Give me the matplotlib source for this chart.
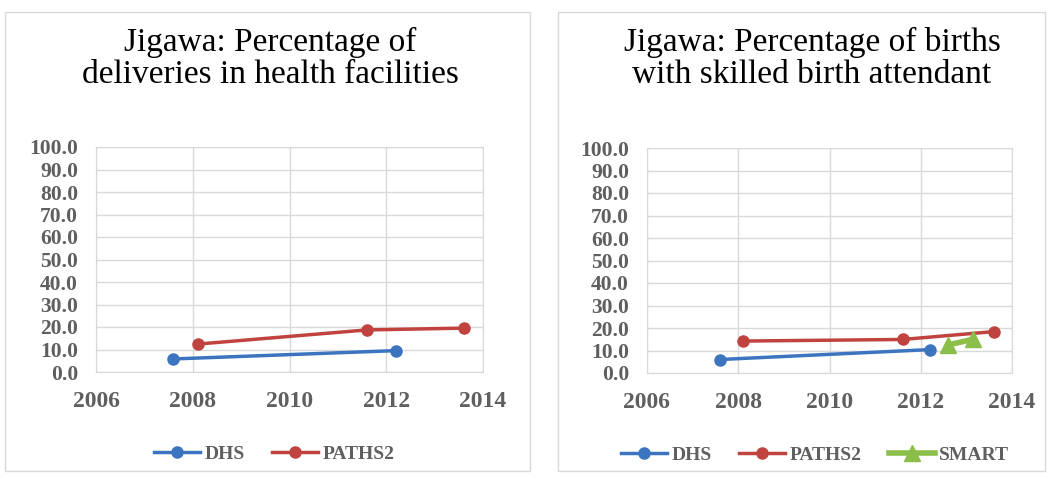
import matplotlib
matplotlib.use("Agg")
import matplotlib.pyplot as plt
from matplotlib.patches import Rectangle

# data
left_title = "Jigawa: Percentage of\ndeliveries in health facilities"
right_title = "Jigawa: Percentage of births\nwith skilled birth attendant"

dhs_years = [2007.6, 2012.2]
dhs_facility = [5.8, 9.5]
dhs_sba = [6.0, 10.4]

paths_years = [2008.1, 2011.6, 2013.6]
paths_facility = [12.4, 18.7, 19.5]
paths_sba = [14.2, 14.9, 18.4]

smart_years = [2012.6, 2013.15]
smart_sba = [12.5, 15.0]

xticks = [2006, 2008, 2010, 2012, 2014]
yticks = list(range(0, 101, 10))

blue = "#3d74c0"
red = "#c0433f"
green = "#8cbf4a"
txt = "#5f5f5f"
serif = ["Liberation Serif", "DejaVu Serif"]

fig = plt.figure(figsize=(10.5, 4.79), dpi=100)

# panel frames
for x0, w in [(5, 525), (558, 487)]:
    fig.patches.append(Rectangle((x0 / 1050, 8 / 479), w / 1050, 459 / 479,
                                 transform=fig.transFigure, fill=False,
                                 edgecolor="#d9d9d9", lw=1.0))


def setup(ax, title, tx):
    ax.set_xlim(2006, 2014)
    ax.set_ylim(0, 100)
    ax.set_xticks(xticks)
    ax.set_yticks(yticks)
    ax.set_yticklabels([f"{v:.1f}" for v in yticks])
    ax.grid(True, color="#d9d9d9", lw=1.0)
    ax.set_axisbelow(True)
    for s in ax.spines.values():
        s.set_color("#d9d9d9")
    ax.tick_params(length=0, colors=txt)
    ax.tick_params(axis="y", pad=13, labelsize=15.5)
    ax.tick_params(axis="x", pad=14, labelsize=17)
    for lab in ax.get_xticklabels() + ax.get_yticklabels():
        lab.set_family(serif)
        lab.set_fontweight("bold")
    fig.text(tx, 0.878, title, ha="center", va="center", fontsize=24,
             family=serif, linespacing=1.1)


leg_kw = dict(loc="center", frameon=False,
              prop={"family": serif, "size": 14, "weight": "bold"},
              labelcolor=txt, handlelength=2.4, columnspacing=1.4,
              handletextpad=0.2)

ax1 = fig.add_axes([96 / 1050, 107 / 479, 387 / 1050, 225 / 479])
ax1.plot(dhs_years, dhs_facility, "-o", color=blue, lw=2.5, ms=8, label="DHS")
ax1.plot(paths_years, paths_facility, "-o", color=red, lw=2.5, ms=8, label="PATHS2")
setup(ax1, left_title, 270 / 1050)
ax1.legend(bbox_to_anchor=(0.46, -0.365), ncol=2, **leg_kw)

ax2 = fig.add_axes([647 / 1050, 106 / 479, 365 / 1050, 225 / 479])
ax2.plot(dhs_years, dhs_sba, "-o", color=blue, lw=2.5, ms=8, label="DHS")
ax2.plot(paths_years, paths_sba, "-o", color=red, lw=2.5, ms=8, label="PATHS2")
ax2.plot(smart_years, smart_sba, "-^", color=green, lw=4, ms=11, label="SMART")
setup(ax2, right_title, 812 / 1050)
ax2.legend(bbox_to_anchor=(0.46, -0.365), ncol=3, **leg_kw)

fig.savefig("out.png", dpi=100)
